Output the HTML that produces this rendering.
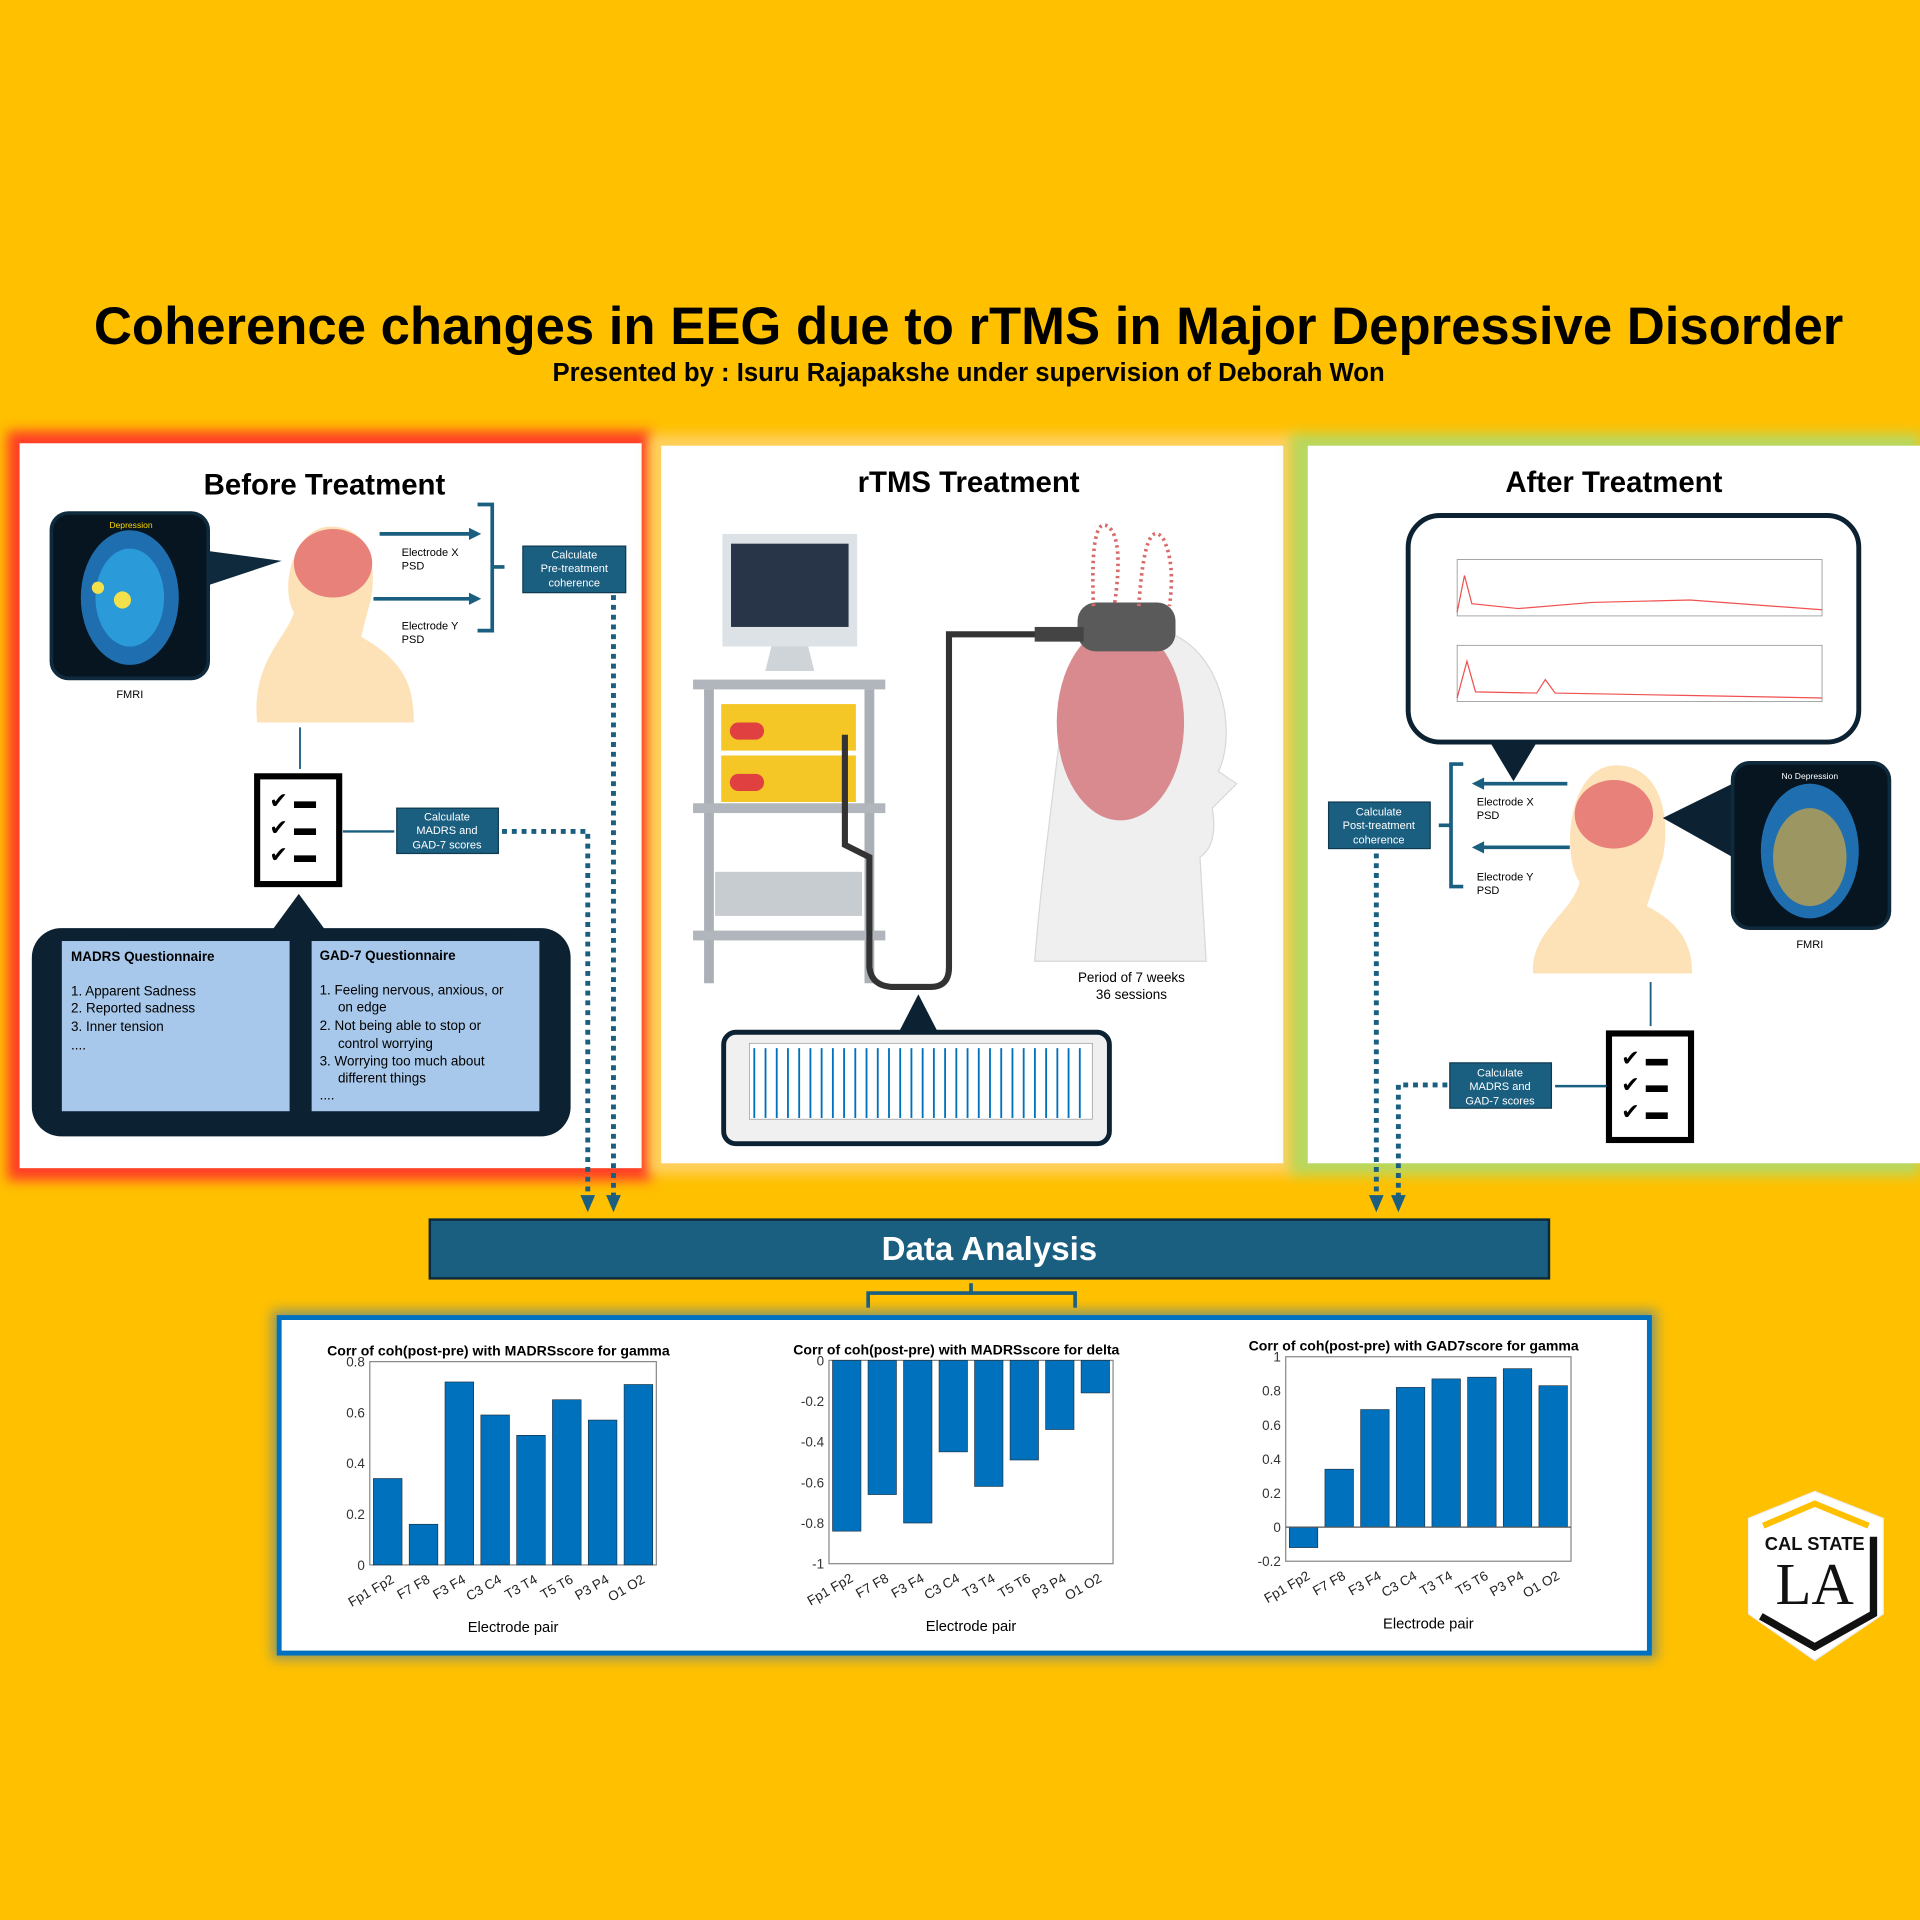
<!DOCTYPE html>
<html><head><meta charset="utf-8"><style>
html,body{margin:0;padding:0;background:#FFC000;}
svg{display:block;font-family:"Liberation Sans",sans-serif;}
</style></head><body>
<svg id="poster" width="1920" height="1920" viewBox="0 0 1568 1568" xmlns="http://www.w3.org/2000/svg">
<defs>
<filter id="glow" x="-10%" y="-10%" width="120%" height="120%"><feGaussianBlur stdDeviation="5"/></filter>
</defs>
<rect width="1568" height="1568" fill="#FFC000"/>
<text x="791" y="281" text-anchor="middle" font-size="43" font-weight="bold" fill="#000">Coherence changes in EEG due to rTMS in Major Depressive Disorder</text>
<text x="791" y="311" text-anchor="middle" font-size="21" font-weight="bold" fill="#000">Presented by : Isuru Rajapakshe under supervision of Deborah Won</text>

<g>
<rect x="6" y="352" width="526" height="612" fill="#FF3C28" filter="url(#glow)"/>
<rect x="16" y="362" width="508" height="592" fill="#fff"/>
<text x="265" y="404" text-anchor="middle" font-size="24" font-weight="bold">Before Treatment</text>
<rect x="42" y="419" width="128" height="135" rx="14" fill="#061520" stroke="#0f2a3c" stroke-width="3"/>
<ellipse cx="106" cy="488" rx="40" ry="55" fill="#1f6fb0"/><ellipse cx="106" cy="488" rx="28" ry="40" fill="#2a9ad8"/>
<circle cx="100" cy="490" r="7" fill="#f4e04a"/><circle cx="80" cy="480" r="5" fill="#f4e04a"/>
<text x="107" y="431" text-anchor="middle" font-size="7" fill="#ffd700">Depression</text>
<polygon points="170,450 230,458 170,478" fill="#0f2a3c"/>
<text x="106" y="570" text-anchor="middle" font-size="9">FMRI</text>
<path d="M210,590 C205,540 235,520 240,500 C228,480 240,430 270,430 C305,430 310,470 300,500 L295,520 C330,540 338,560 338,590 Z" fill="#fde2b8"/>
<ellipse cx="272" cy="460" rx="32" ry="28" fill="#e7817a"/>
<line x1="310" y1="436" x2="383" y2="436" stroke="#1a5e80" stroke-width="3"/><polygon points="383,431 393,436 383,441" fill="#1a5e80"/>
<line x1="305" y1="489" x2="383" y2="489" stroke="#1a5e80" stroke-width="3"/><polygon points="383,484 393,489 383,494" fill="#1a5e80"/>
<text x="328" y="454" font-size="9">Electrode X</text><text x="328" y="465" font-size="9">PSD</text>
<text x="328" y="514" font-size="9">Electrode Y</text><text x="328" y="525" font-size="9">PSD</text>
<path d="M390,412 H402 V515 H390 M402,463 H412" fill="none" stroke="#1a5e80" stroke-width="3"/>
<rect x="427" y="446" width="84" height="38" fill="#1a5e80" stroke="#0f3a50"/>
<text x="469" y="456" text-anchor="middle" font-size="9" fill="#fff">Calculate</text>
<text x="469" y="467" text-anchor="middle" font-size="9" fill="#fff">Pre-treatment</text>
<text x="469" y="479" text-anchor="middle" font-size="9" fill="#fff">coherence</text>
<line x1="245" y1="594" x2="245" y2="628" stroke="#1a5e80" stroke-width="1.5"/>
<rect x="210" y="634" width="67" height="88" fill="#fff" stroke="#000" stroke-width="5"/>
<text x="220" y="660" font-size="18">✔ ▬</text><text x="220" y="682" font-size="18">✔ ▬</text><text x="220" y="704" font-size="18">✔ ▬</text>
<line x1="280" y1="679" x2="322" y2="679" stroke="#1a5e80" stroke-width="2"/>
<rect x="324" y="660" width="83" height="37" fill="#1a5e80" stroke="#0f3a50"/>
<text x="365" y="670" text-anchor="middle" font-size="9" fill="#fff">Calculate</text>
<text x="365" y="681" text-anchor="middle" font-size="9" fill="#fff">MADRS and</text>
<text x="365" y="693" text-anchor="middle" font-size="9" fill="#fff">GAD-7 scores</text>
<polygon points="222,760 244,730 266,760" fill="#0c2232"/>
<rect x="26" y="758" width="440" height="170" rx="24" fill="#0c2232"/>
<rect x="50" y="768" width="187" height="140" fill="#a7c8ea" stroke="#0c2232"/>
<rect x="254" y="768" width="187" height="140" fill="#a7c8ea" stroke="#0c2232"/>
<text x="58" y="785" font-size="11" font-weight="bold">MADRS Questionnaire</text>
<text x="58" y="813" font-size="11">1.  Apparent Sadness</text>
<text x="58" y="827" font-size="11">2.  Reported sadness</text>
<text x="58" y="842" font-size="11">3.  Inner tension</text>
<text x="58" y="857" font-size="11">....</text>
<text x="261" y="784" font-size="11" font-weight="bold">GAD-7 Questionnaire</text>
<text x="261" y="812" font-size="11">1.  Feeling nervous, anxious, or</text>
<text x="276" y="826" font-size="11">on edge</text>
<text x="261" y="841" font-size="11">2.  Not being able to stop or</text>
<text x="276" y="856" font-size="11">control worrying</text>
<text x="261" y="870" font-size="11">3.  Worrying too much about</text>
<text x="276" y="884" font-size="11">different things</text>
<text x="261" y="898" font-size="11">....</text>
</g>

<g>
<rect x="530" y="355" width="528" height="604" fill="#FFD060" filter="url(#glow)"/>
<rect x="540" y="364" width="508" height="586" fill="#fff"/>
<text x="791" y="402" text-anchor="middle" font-size="24" font-weight="bold">rTMS Treatment</text>
<rect x="590" y="436" width="110" height="92" fill="#dde2e7"/><rect x="597" y="444" width="96" height="68" fill="#283548"/>
<polygon points="630,528 660,528 665,548 625,548" fill="#cfd4d9"/>
<rect x="566" y="555" width="157" height="8" fill="#b0b6bc"/>
<rect x="575" y="563" width="8" height="240" fill="#aab0b6"/><rect x="706" y="563" width="8" height="240" fill="#aab0b6"/>
<rect x="589" y="575" width="110" height="38" fill="#f5c726"/><rect x="589" y="617" width="110" height="38" fill="#f5c726"/>
<rect x="596" y="590" width="28" height="14" rx="7" fill="#e04040"/><rect x="596" y="632" width="28" height="14" rx="7" fill="#e04040"/>
<rect x="566" y="656" width="157" height="8" fill="#b0b6bc"/>
<rect x="584" y="712" width="120" height="36" fill="#c7ccd1"/>
<rect x="566" y="760" width="157" height="8" fill="#b0b6bc"/>
<path d="M690,600 V690 L710,700 V790 Q712,806 730,806 H760 Q775,806 775,790 V518 H850" fill="none" stroke="#333" stroke-width="5"/>
<path d="M845,785 C850,720 860,650 868,580 C870,530 900,505 950,515 C1000,530 1010,600 995,630 L1010,640 L990,660 Q995,690 980,700 L985,785 Z" fill="#efefef" stroke="#d8d8d8"/>
<ellipse cx="915" cy="590" rx="52" ry="80" fill="#d88a8f"/>
<rect x="880" y="492" width="80" height="40" rx="15" fill="#5a5a5a"/>
<rect x="845" y="512" width="40" height="12" fill="#444"/>
<path d="M893,495 Q890,420 905,430 Q918,440 910,495 M930,495 Q935,420 950,440 Q960,460 955,495" fill="none" stroke="#d96a6a" stroke-width="3" stroke-dasharray="2,3"/>
<text x="924" y="802" text-anchor="middle" font-size="11">Period of 7 weeks</text>
<text x="924" y="816" text-anchor="middle" font-size="11">36 sessions</text>
<polygon points="734,843 750,812 766,843" fill="#0c2232"/>
<rect x="591" y="843" width="315" height="91" rx="10" fill="#f0f0f0" stroke="#0c2232" stroke-width="4"/>
<rect x="612" y="852" width="280" height="62" fill="#fff" stroke="#888" stroke-width="0.5"/>
<g id="pulses"></g>
</g>

<g>
<rect x="1054" y="354" width="514" height="606" fill="#B8D860" filter="url(#glow)"/>
<rect x="1068" y="364" width="500" height="586" fill="#fff"/>
<text x="1318" y="402" text-anchor="middle" font-size="24" font-weight="bold">After Treatment</text>
<rect x="1150" y="421" width="368" height="185" rx="26" fill="#fff" stroke="#0c2232" stroke-width="4"/>
<rect x="1190" y="457" width="298" height="46" fill="#fff" stroke="#888" stroke-width="0.6"/>
<rect x="1190" y="527" width="298" height="46" fill="#fff" stroke="#888" stroke-width="0.6"/>
<path d="M1190,500 L1196,470 L1202,493 L1240,497 L1300,492 L1380,490 L1488,498" fill="none" stroke="#f05050" stroke-width="1"/>
<path d="M1190,570 L1198,540 L1205,565 L1255,566 L1262,555 L1270,566 L1380,568 L1488,570" fill="none" stroke="#f05050" stroke-width="1"/>
<polygon points="1218,608 1236,638 1254,608" fill="#0c2232"/>
<path d="M1195,624 H1185 V724 H1195 M1185,674 H1175" fill="none" stroke="#1a5e80" stroke-width="3"/>
<line x1="1210" y1="640" x2="1280" y2="640" stroke="#1a5e80" stroke-width="3"/><polygon points="1212,635 1202,640 1212,645" fill="#1a5e80"/>
<line x1="1210" y1="692" x2="1282" y2="692" stroke="#1a5e80" stroke-width="3"/><polygon points="1212,687 1202,692 1212,697" fill="#1a5e80"/>
<text x="1206" y="658" font-size="9">Electrode X</text><text x="1206" y="669" font-size="9">PSD</text>
<text x="1206" y="719" font-size="9">Electrode Y</text><text x="1206" y="730" font-size="9">PSD</text>
<rect x="1085" y="655" width="83" height="38" fill="#1a5e80" stroke="#0f3a50"/>
<text x="1126" y="666" text-anchor="middle" font-size="9" fill="#fff">Calculate</text>
<text x="1126" y="677" text-anchor="middle" font-size="9" fill="#fff">Post-treatment</text>
<text x="1126" y="689" text-anchor="middle" font-size="9" fill="#fff">coherence</text>
<path d="M1252,795 C1250,760 1285,745 1290,720 C1275,700 1280,625 1320,625 C1355,625 1365,665 1358,700 L1345,740 C1375,755 1382,775 1382,795 Z" fill="#fde2b8"/>
<ellipse cx="1318" cy="665" rx="32" ry="28" fill="#e7817a"/>
<polygon points="1415,640 1358,668 1415,700" fill="#0c2232"/>
<rect x="1415" y="623" width="128" height="135" rx="14" fill="#061520" stroke="#0f2a3c" stroke-width="3"/>
<ellipse cx="1478" cy="695" rx="40" ry="55" fill="#1f6fb0"/><ellipse cx="1478" cy="700" rx="30" ry="40" fill="#f0b030" opacity="0.6"/>
<text x="1478" y="636" text-anchor="middle" font-size="7" fill="#fff">No Depression</text>
<text x="1478" y="774" text-anchor="middle" font-size="9">FMRI</text>
<line x1="1348" y1="802" x2="1348" y2="838" stroke="#1a5e80" stroke-width="1.5"/>
<rect x="1314" y="844" width="67" height="87" fill="#fff" stroke="#000" stroke-width="5"/>
<text x="1324" y="870" font-size="18">✔ ▬</text><text x="1324" y="892" font-size="18">✔ ▬</text><text x="1324" y="914" font-size="18">✔ ▬</text>
<line x1="1270" y1="887" x2="1312" y2="887" stroke="#1a5e80" stroke-width="2"/>
<rect x="1184" y="868" width="83" height="37" fill="#1a5e80" stroke="#0f3a50"/>
<text x="1225" y="879" text-anchor="middle" font-size="9" fill="#fff">Calculate</text>
<text x="1225" y="890" text-anchor="middle" font-size="9" fill="#fff">MADRS and</text>
<text x="1225" y="902" text-anchor="middle" font-size="9" fill="#fff">GAD-7 scores</text>
</g>

<g fill="none" stroke="#1a5e80" stroke-width="4" stroke-dasharray="4,4">
<path d="M501,486 V980"/><path d="M410,679 H480 V980"/>
<path d="M1124,697 V980"/><path d="M1182,886 H1142 V980"/>
</g>
<g fill="#1a5e80"><polygon points="474,976 486,976 480,990"/><polygon points="495,976 507,976 501,990"/><polygon points="1118,976 1130,976 1124,990"/><polygon points="1136,976 1148,976 1142,990"/></g>

<rect x="351" y="996" width="914" height="48" fill="#1a5e80" stroke="#0c2a3c" stroke-width="2"/>
<text x="808" y="1029" text-anchor="middle" font-size="27" font-weight="bold" fill="#fff">Data Analysis</text>
<path d="M709,1068 V1056 H878 V1068 M793,1056 V1048" fill="none" stroke="#1a5e80" stroke-width="3"/>

<rect x="222" y="1070" width="1131" height="285" fill="#3c7ab0" filter="url(#glow)" opacity="0.6"/>
<rect x="228" y="1076" width="1119" height="274" fill="#fff" stroke="#0070C0" stroke-width="4"/>
<g id="charts"></g>

<g>
<path d="M1428,1240 L1482,1218 L1538,1240 L1538,1318 L1482,1356 L1428,1318 Z" fill="#fff" stroke="#eee"/>
<path d="M1440,1246 L1482,1228 L1526,1246" fill="none" stroke="#FFC000" stroke-width="5"/>
<path d="M1530,1255 V1318 L1482,1345 L1438,1320" fill="none" stroke="#111" stroke-width="6"/>
<text x="1482" y="1266" text-anchor="middle" font-size="15" font-weight="bold" fill="#111">CAL STATE</text>
<text x="1482" y="1310" text-anchor="middle" font-size="48" font-family="Liberation Serif,serif" fill="#111">LA</text>
</g>
</svg>
<script>
const NS='http://www.w3.org/2000/svg';
const pairs=['Fp1 Fp2','F7 F8','F3 F4','C3 C4','T3 T4','T5 T6','P3 P4','O1 O2'];
const madrsGamma=[0.34,0.16,0.72,0.59,0.51,0.65,0.57,0.71];
const madrsDelta=[-0.84,-0.66,-0.80,-0.45,-0.62,-0.49,-0.34,-0.16];
const gad7Gamma=[-0.12,0.34,0.69,0.82,0.87,0.88,0.93,0.83];
const ticks1=[0,0.2,0.4,0.6,0.8];
const ticks2=[-1,-0.8,-0.6,-0.4,-0.2,0];
const ticks3=[-0.2,0,0.2,0.4,0.6,0.8,1];
const titles=['Corr of coh(post-pre) with MADRSscore for gamma','Corr of coh(post-pre) with MADRSscore for delta','Corr of coh(post-pre) with GAD7score for gamma'];
const pulseTimes=[];for(let i=0;i<30;i++)pulseTimes.push(i*0.1);
function mk(tag,attrs,parent){const e=document.createElementNS(NS,tag);for(const k in attrs)e.setAttribute(k,attrs[k]);parent.appendChild(e);return e;}
const root=document.getElementById('charts');
function chart(idx,vals,ticks,x0,y0,w,h,title,ty){
  const g=mk('g',{},root);
  
  
  const ymin=ticks[0],ymax=ticks[ticks.length-1];
  const Y=v=>y0+h-(v-ymin)/(ymax-ymin)*h;
  const bw=w/vals.length;
  const X=i=>x0+bw*(i+0.5);
  const t=mk('text',{x:x0+w/2-12,y:ty,'text-anchor':'middle','font-size':11.5,'font-weight':'bold'},g);t.textContent=title;
  
  mk('rect',{x:x0,y:y0,width:w,height:h,fill:'#fff',stroke:'#888','stroke-width':1},g);
  ticks.forEach(tv=>{const l=mk('text',{x:x0-4,y:Y(tv)+4,'text-anchor':'end','font-size':11,fill:'#333'},g);l.textContent=String(tv);
    });
  const base=Y(Math.max(ymin,Math.min(0,ymax)));
  vals.forEach((v,i)=>{const yv=Y(v);const r=mk('rect',{x:X(i)-bw*0.4,y:Math.min(yv,base),width:bw*0.8,height:Math.abs(yv-base),fill:'#0072BD',stroke:'#1a2a3a','stroke-width':0.5},g);
    
    const l=mk('text',{x:X(i)+6,y:y0+h+14,'text-anchor':'end','font-size':11,fill:'#222',transform:`rotate(-30 ${X(i)+6} ${y0+h+14})`},g);l.textContent=pairs[i];
    });
  if(ymin<0&&ymax>0)mk('line',{x1:x0,x2:x0+w,y1:base,y2:base,stroke:'#555','stroke-width':1},g);
  const xl=mk('text',{x:x0+w/2,y:y0+h+55,'text-anchor':'middle','font-size':12},g);xl.textContent='Electrode pair';
  
}
chart(0,madrsGamma,ticks1,302,1112,234,166,titles[0],1107);
chart(1,madrsDelta,ticks2,677,1111,232,166,titles[1],1106);
chart(2,gad7Gamma,ticks3,1050,1108,233,167,titles[2],1103);
const pg=document.getElementById('pulses');
pulseTimes.forEach(tp=>{const x=616+tp/3*275;const l=mk('line',{x1:x,x2:x,y1:856,y2:913,stroke:'#0072BD','stroke-width':1.5},pg);
  });
</script>
</body></html>
